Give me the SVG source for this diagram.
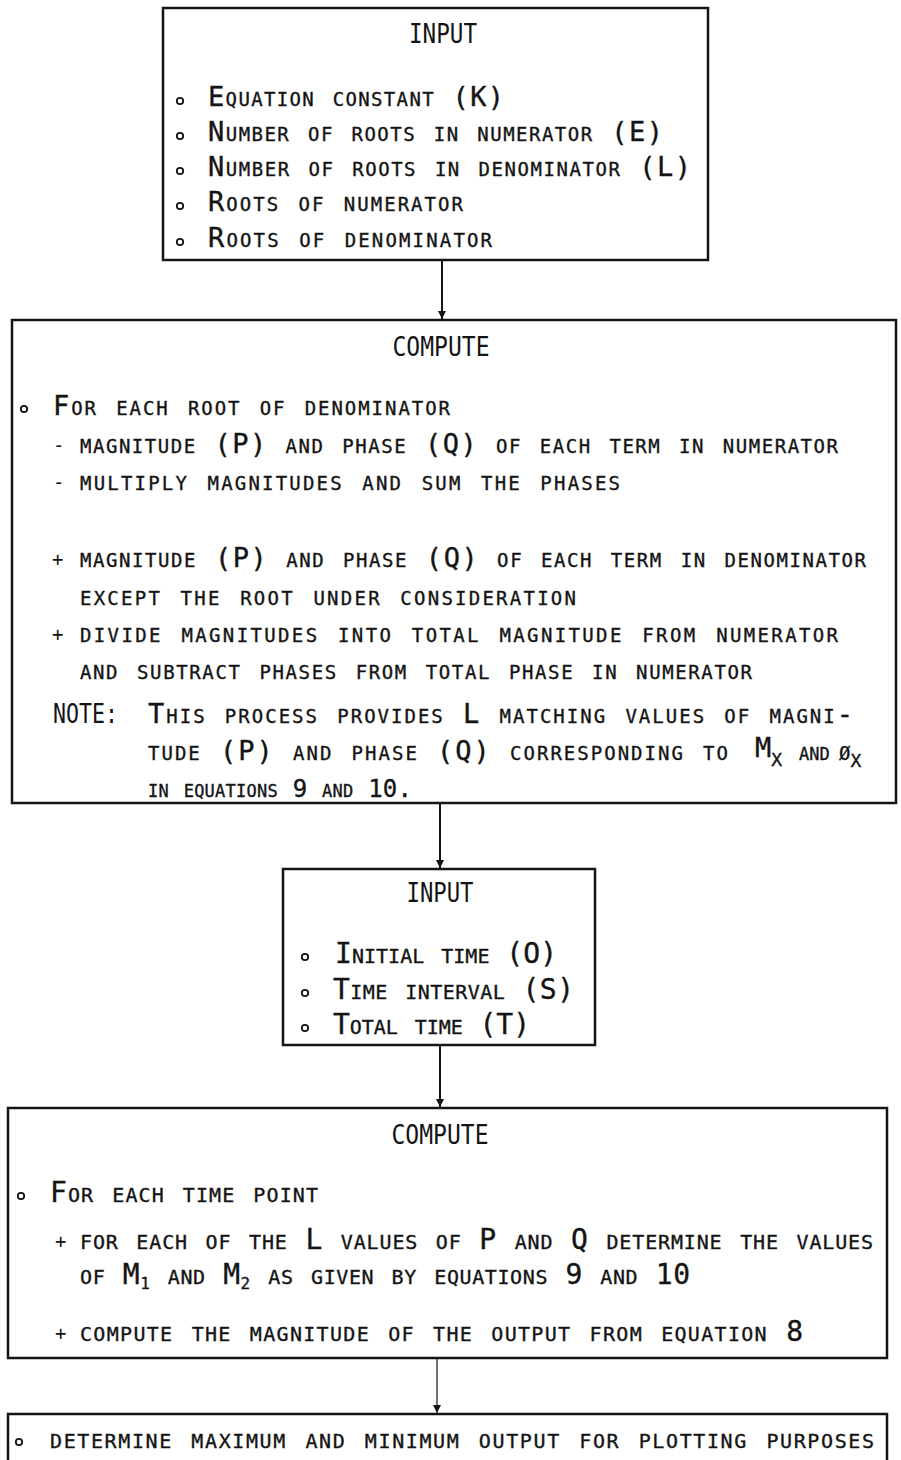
<svg xmlns="http://www.w3.org/2000/svg" width="901" height="1460" viewBox="0 0 901 1460">
<style>
.box{fill:#fff;stroke:#141414;stroke-width:2.5}
.t{font-family:"DejaVu Sans Mono",monospace;font-variant:small-caps;fill:#141414;stroke:#141414;stroke-width:0.35}
.s1{font-size:27px}
.s2{font-size:27px}
.s3{font-size:28px}
.s4{font-size:24px}
.m{font-family:"DejaVu Sans Mono",monospace;font-size:19px;fill:#141414}
.h{font-family:"DejaVu Sans Mono",monospace;font-size:27px;fill:#141414}
.b{fill:none;stroke:#141414;stroke-width:1.8}
.c{stroke:#141414;stroke-width:2;fill:none}
.c2{stroke:#141414;stroke-width:1.2;fill:none}
</style>
<defs>
<marker id="ah" viewBox="0 0 10 10" refX="10" refY="5" markerWidth="8" markerHeight="8" markerUnits="userSpaceOnUse" orient="auto">
<path d="M0,0 L10,5 L0,10 z" fill="#141414"/>
</marker>
</defs>
<rect width="901" height="1460" fill="#fff"/>

<g id="connectors">
<line class="c" x1="442" y1="261" x2="442" y2="319" marker-end="url(#ah)"/>
<line class="c" x1="440" y1="803" x2="440" y2="868" marker-end="url(#ah)"/>
<line class="c" x1="440" y1="1045" x2="440" y2="1107" marker-end="url(#ah)"/>
<line class="c2" x1="437" y1="1358" x2="437" y2="1413" marker-end="url(#ah)"/>
</g>

<g id="input1">
<rect class="box" x="163" y="8" width="545" height="252"/>
<text class="h" x="443" y="43" text-anchor="middle" textLength="68" lengthAdjust="spacingAndGlyphs">INPUT</text>
<circle class="b" cx="180" cy="101" r="3.2"/>
<circle class="b" cx="180" cy="136" r="3.2"/>
<circle class="b" cx="180" cy="171" r="3.2"/>
<circle class="b" cx="180" cy="206" r="3.2"/>
<circle class="b" cx="180" cy="242" r="3.2"/>
<text class="t s1" x="208" y="106" textLength="296" lengthAdjust="spacing">Equation constant (K)</text>
<text class="t s1" x="208" y="141" textLength="455" lengthAdjust="spacing">Number of roots in numerator (E)</text>
<text class="t s1" x="208" y="176" textLength="483" lengthAdjust="spacing">Number of roots in denominator (L)</text>
<text class="t s1" x="208" y="211" textLength="255" lengthAdjust="spacing">Roots of numerator</text>
<text class="t s1" x="208" y="247" textLength="284" lengthAdjust="spacing">Roots of denominator</text>
</g>

<g id="compute1">
<rect class="box" x="12" y="320" width="884" height="483"/>
<text class="h" x="441" y="356" text-anchor="middle" textLength="97" lengthAdjust="spacingAndGlyphs">COMPUTE</text>
<circle class="b" cx="24" cy="409" r="3.2"/>
<text class="t s2" x="53" y="415" textLength="397" lengthAdjust="spacing">For each root of denominator</text>
<text class="m" x="53" y="452">-</text>
<text class="t s2" x="80" y="453" textLength="758" lengthAdjust="spacing">magnitude (P) and phase (Q) of each term in numerator</text>
<text class="m" x="53" y="489">-</text>
<text class="t s2" x="80" y="490" textLength="540" lengthAdjust="spacing">multiply magnitudes and sum the phases</text>
<text class="m" x="52" y="566">+</text>
<text class="t s2" x="80" y="567" textLength="786" lengthAdjust="spacing">magnitude (P) and phase (Q) of each term in denominator</text>
<text class="t s2" x="80" y="605" textLength="496" lengthAdjust="spacing">except the root under consideration</text>
<text class="m" x="52" y="641">+</text>
<text class="t s2" x="80" y="642" textLength="758" lengthAdjust="spacing">divide magnitudes into total magnitude from numerator</text>
<text class="t s2" x="80" y="679" textLength="672" lengthAdjust="spacing">and subtract phases from total phase in numerator</text>
<text class="h" x="53" y="723" textLength="65" lengthAdjust="spacingAndGlyphs">NOTE:</text>
<text class="t s2" x="148" y="723" textLength="705" lengthAdjust="spacing">This process provides L matching values of magni-</text>
<text class="t s2" x="148" y="760" textLength="580" lengthAdjust="spacing">tude (P) and phase (Q) corresponding to</text>
<text class="t s2" x="755" y="757">M<tspan font-size="18" dy="9">X</tspan></text>
<text class="t s4" x="799" y="760">and</text>
<text class="t s2" x="839" y="760">ø<tspan font-size="18" dy="7">X</tspan></text>
<text class="t s4" x="148" y="797" textLength="264" lengthAdjust="spacing">in equations 9 and 10.</text>
</g>

<g id="input2">
<rect class="box" x="283" y="869" width="312" height="176"/>
<text class="h" x="440" y="902" text-anchor="middle" textLength="67" lengthAdjust="spacingAndGlyphs">INPUT</text>
<circle class="b" cx="305" cy="957" r="3.2"/>
<circle class="b" cx="305" cy="993" r="3.2"/>
<circle class="b" cx="305" cy="1028" r="3.2"/>
<text class="t s3" x="335" y="963" textLength="222" lengthAdjust="spacing">Initial time (O)</text>
<text class="t s3" x="333" y="999" textLength="241" lengthAdjust="spacing">Time interval (S)</text>
<text class="t s3" x="333" y="1034" textLength="197" lengthAdjust="spacing">Total time (T)</text>
</g>

<g id="compute2">
<rect class="box" x="8" y="1108" width="879" height="250"/>
<text class="h" x="440" y="1144" text-anchor="middle" textLength="97" lengthAdjust="spacingAndGlyphs">COMPUTE</text>
<circle class="b" cx="21" cy="1196" r="3.2"/>
<text class="t s3" x="50" y="1202" textLength="268" lengthAdjust="spacing">For each time point</text>
<text class="m" x="55" y="1248">+</text>
<text class="t s3" x="80" y="1249" textLength="793" lengthAdjust="spacing">for each of the L values of P and Q determine the values</text>
<text class="t s3" x="80" y="1284" textLength="610" lengthAdjust="spacing">of M<tspan font-size="16" dy="5">1</tspan><tspan dy="-5"> and M</tspan><tspan font-size="16" dy="5">2</tspan><tspan dy="-5"> as given by equations 9 and 10</tspan></text>
<text class="m" x="55" y="1340">+</text>
<text class="t s3" x="80" y="1341" textLength="723" lengthAdjust="spacing">compute the magnitude of the output from equation 8</text>
</g>

<g id="output">
<rect class="box" x="8" y="1414" width="879" height="60"/>
<circle class="b" cx="19" cy="1442" r="3.2"/>
<text class="t s3" x="50" y="1448" textLength="824" lengthAdjust="spacing">determine maximum and minimum output for plotting purposes</text>
</g>
</svg>
